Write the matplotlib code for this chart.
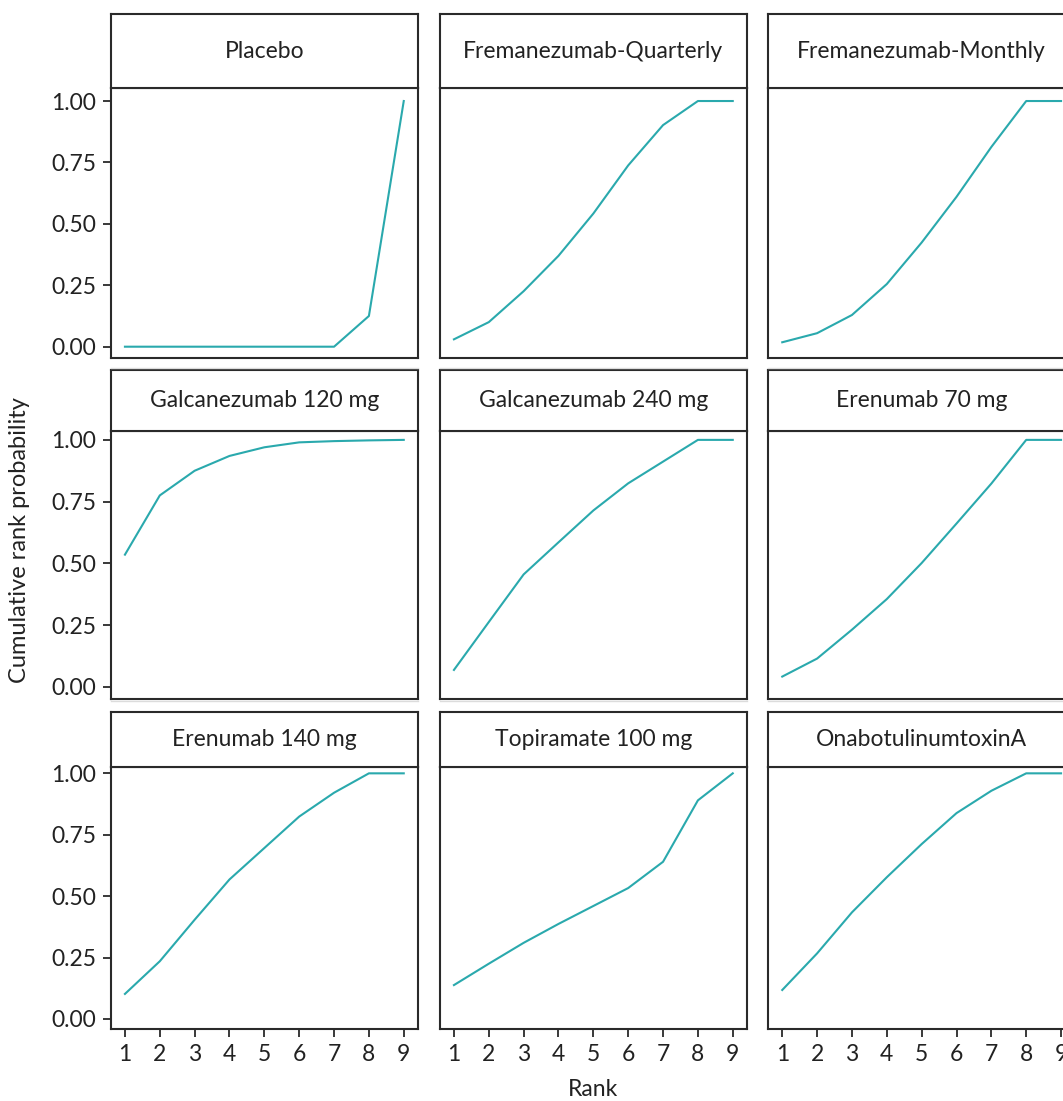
import matplotlib
matplotlib.use("Agg")
import matplotlib.pyplot as plt
from matplotlib.lines import Line2D

plt.rcParams["font.family"] = ["Lato", "DejaVu Sans"]

# Cumulative rank probabilities (SUCRA curves) for each treatment
ranks = [1, 2, 3, 4, 5, 6, 7, 8, 9]
treatments = [
    "Placebo", "Fremanezumab-Quarterly", "Fremanezumab-Monthly",
    "Galcanezumab 120 mg", "Galcanezumab 240 mg", "Erenumab 70 mg",
    "Erenumab 140 mg", "Topiramate 100 mg", "OnabotulinumtoxinA",
]
placebo = [0.0, 0.0, 0.0, 0.0, 0.0, 0.0, 0.0, 0.125, 1.0]
fremanezumab_quarterly = [0.030, 0.100, 0.226, 0.370, 0.542, 0.738, 0.902, 1.0, 1.0]
fremanezumab_monthly = [0.018, 0.055, 0.129, 0.255, 0.424, 0.610, 0.813, 1.0, 1.0]
galcanezumab_120 = [0.535, 0.775, 0.875, 0.935, 0.970, 0.990, 0.995, 0.998, 1.0]
galcanezumab_240 = [0.068, 0.262, 0.455, 0.585, 0.714, 0.824, 0.912, 1.0, 1.0]
erenumab_70 = [0.041, 0.114, 0.231, 0.355, 0.501, 0.661, 0.823, 1.0, 1.0]
erenumab_140 = [0.102, 0.235, 0.404, 0.568, 0.696, 0.824, 0.921, 1.0, 1.0]
topiramate_100 = [0.138, 0.225, 0.310, 0.387, 0.460, 0.533, 0.640, 0.890, 1.0]
onabotulinumtoxin = [0.118, 0.267, 0.434, 0.577, 0.712, 0.838, 0.929, 1.0, 1.0]
series = [placebo, fremanezumab_quarterly, fremanezumab_monthly,
          galcanezumab_120, galcanezumab_240, erenumab_70,
          erenumab_140, topiramate_100, onabotulinumtoxin]
y_ticks = [0.0, 0.25, 0.5, 0.75, 1.0]
y_tick_labels = ["0.00", "0.25", "0.50", "0.75", "1.00"]

W, H = 1063, 1101
fig = plt.figure(figsize=(W / 100, H / 100), dpi=100)

LINE = "#2AA9AD"
INK = "#222222"
FRAME = "#2a2a2a"
FS = 16.5

col_left = [111, 440, 768.3]
panel_w = 306.7
# (strip top, panel top, panel bottom) in pixels, with y-limits per row
rows = [(14, 88, 358), (370, 431, 699.3), (711.7, 766.7, 1029.3)]
ylims = [(-0.046, 1.053), (-0.051, 1.036), (-0.042, 1.027)]


def fig_rect(x0, y0, x1, y1):
    return [x0 / W, 1 - y1 / H, (x1 - x0) / W, (y1 - y0) / H]


for i, (name, vals) in enumerate(zip(treatments, series)):
    r, c = divmod(i, 3)
    st, pt, pb = rows[r]
    x0 = col_left[c]
    ax = fig.add_axes(fig_rect(x0, pt, x0 + panel_w, pb))
    ax.plot(ranks, vals, color=LINE, lw=1.5, solid_joinstyle="round")
    ax.set_xlim(0.6, 9.4)
    ax.set_ylim(*ylims[r])
    for s in ax.spines.values():
        s.set_color(FRAME)
        s.set_linewidth(1.5)
    ax.tick_params(colors=FRAME, width=1.3, length=6, labelsize=FS,
                   labelcolor=INK, pad=4.5)
    ax.set_xticks(ranks)
    ax.set_yticks(y_ticks)
    if r == 2:
        ax.set_xticklabels([str(k) for k in ranks])
    else:
        ax.tick_params(axis="x", length=0, labelbottom=False)
    if c == 0:
        ax.set_yticklabels(y_tick_labels)
    else:
        ax.tick_params(axis="y", length=0, labelleft=False)

    # facet strip
    sax = fig.add_axes(fig_rect(x0, st, x0 + panel_w, pt))
    sax.set_xticks([])
    sax.set_yticks([])
    for s in sax.spines.values():
        s.set_color(FRAME)
        s.set_linewidth(1.5)
    sax.text(0.5, 0.5, name, ha="center", va="center", fontsize=FS,
             color=INK, transform=sax.transAxes)

# faint separators beneath the upper rows
for y in (368, 701):
    for x0 in col_left:
        fig.add_artist(Line2D([x0 / W, (x0 + panel_w) / W], [1 - y / H, 1 - y / H],
                              color="#dcdcdc", lw=1.0))

fig.text(20 / W, 1 - 540 / H, "Cumulative rank probability", rotation=90,
         ha="center", va="center", fontsize=17, color=INK)
fig.text(593 / W, 1 - 1090 / H, "Rank", ha="center", va="center",
         fontsize=16.5, color=INK)

fig.savefig("out.png", dpi=100, facecolor="white")
